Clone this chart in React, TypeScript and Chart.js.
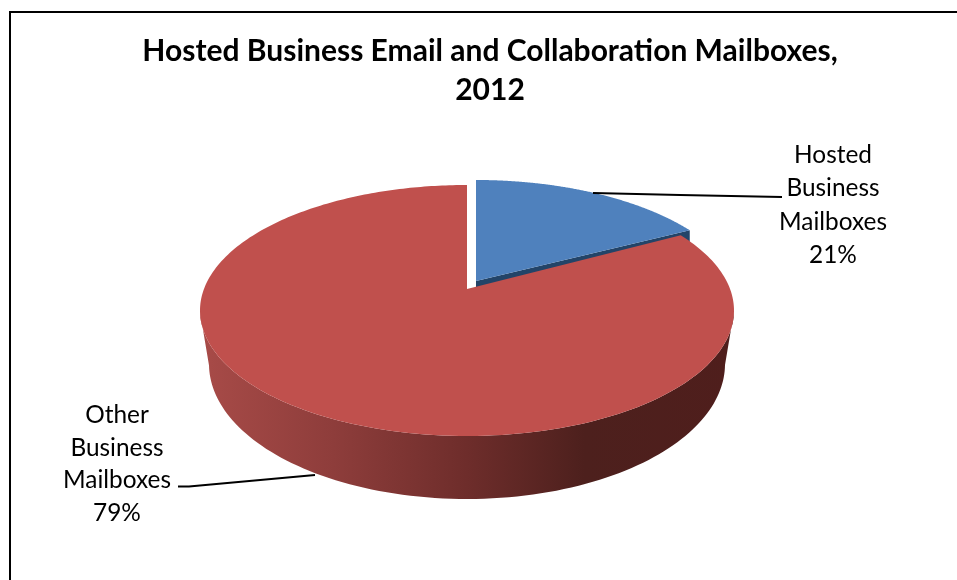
import React, { useEffect, useRef } from "react";
import { Chart, registerables, ArcElement, PieController } from "chart.js";

const categories = ["Hosted Business Mailboxes", "Other Business Mailboxes"];
const shares = [21, 79];
const sliceColors = ["#4f81bd", "#c0504d"];
const titleLines = ["Hosted Business Email and Collaboration Mailboxes,", "2012"];

const FONT = "Lato, 'Open Sans', sans-serif";
const RX = 267;
const RY = 125.5;
const APEX_DY = -21.5;
const FORESHORTEN = -0.412;
const BOTTOM = { rx: 258, ry: 135, dy: 53.5, depth: 63 };
const SLICE_STYLE: Record<string, { dx: number; dy: number; apex: number; wall: string | null }> = {
  "#4f81bd": { dx: 9, dy: -5, apex: -3, wall: "#234468" },
  "#c0504d": { dx: 0, dy: 0, apex: 0, wall: null },
};

function rim(theta: number) {
  const X = Math.sin(theta);
  const Y = -Math.cos(theta);
  const d = 1 + FORESHORTEN * Y;
  return {
    u: (X * Math.sqrt(1 - FORESHORTEN * FORESHORTEN)) / d,
    v: (Y + FORESHORTEN) / d,
  };
}

class Pie3DArc extends ArcElement {
  static id = "pie3dArc";
  draw(ctx: CanvasRenderingContext2D) {
    const a: any = this;
    const color = a.options.backgroundColor as string;
    const style = SLICE_STYLE[color] || { dx: 0, dy: 0, apex: 0, wall: null };
    const cx = a.x + style.dx;
    const cy = a.y + style.dy;
    const apexY = cy + APEX_DY + style.apex;
    const t0 = a.startAngle + Math.PI / 2;
    const t1 = a.endAngle + Math.PI / 2;
    const N = 240;
    const pts: { u: number; v: number }[] = [];
    for (let i = 0; i <= N; i++) pts.push(rim(t0 + ((t1 - t0) * i) / N));
    const top = (p: { u: number; v: number }) => [cx + RX * p.u, cy + RY * p.v];
    const low = (p: { u: number; v: number }) => [
      cx + BOTTOM.rx * p.u,
      cy + BOTTOM.dy + BOTTOM.ry * p.v,
    ];

    ctx.save();
    if (style.wall) {
      const [tx, ty] = top(pts[N]);
      ctx.fillStyle = style.wall;
      ctx.beginPath();
      ctx.moveTo(cx, apexY);
      ctx.lineTo(tx, ty);
      ctx.lineTo(tx, ty + BOTTOM.depth);
      ctx.lineTo(cx, apexY + BOTTOM.depth);
      ctx.closePath();
      ctx.fill();
    } else {
      const front = pts.filter((p) => p.v >= 0);
      const g = ctx.createLinearGradient(cx - RX, 0, cx + RX, 0);
      g.addColorStop(0, "#a84b48");
      g.addColorStop(0.25, "#8e3d3b");
      g.addColorStop(0.5, "#6e2d2b");
      g.addColorStop(0.72, "#4d201d");
      g.addColorStop(1, "#4f1e1c");
      ctx.fillStyle = g;
      ctx.beginPath();
      front.forEach((p, i) => {
        const [x, y] = top(p);
        if (i === 0) ctx.moveTo(x, y);
        else ctx.lineTo(x, y);
      });
      for (let i = front.length - 1; i >= 0; i--) {
        const [x, y] = low(front[i]);
        ctx.lineTo(x, y);
      }
      ctx.closePath();
      ctx.fill();
    }
    ctx.fillStyle = color;
    ctx.beginPath();
    ctx.moveTo(cx, apexY);
    pts.forEach((p) => {
      const [x, y] = top(p);
      ctx.lineTo(x, y);
    });
    ctx.closePath();
    ctx.fill();
    ctx.restore();
  }
}

class Pie3DController extends PieController {
  static id = "pie3d";
  static defaults = { dataElementType: "pie3dArc" };
}

Chart.register(...registerables, Pie3DArc as any, Pie3DController as any);

const framePlugin = {
  id: "frame",
  beforeDraw(chart: any) {
    const { ctx, width, height } = chart;
    ctx.save();
    ctx.fillStyle = "#ffffff";
    ctx.fillRect(0, 0, width, height);
    ctx.strokeStyle = "#000000";
    ctx.lineWidth = 2;
    ctx.beginPath();
    ctx.moveTo(10, height);
    ctx.lineTo(10, 12);
    ctx.lineTo(width, 12);
    ctx.stroke();
    ctx.restore();
  },
  afterLayout(chart: any) {
    chart.titleBlock.left = 23;
    chart.titleBlock.right = 957;
  },
};

const labelPlugin = {
  id: "pieLabels",
  afterDraw(chart: any) {
    const { ctx } = chart;
    const anchors = [
      { x: 833, y: 163, step: 33.3, leader: [[593, 193], [680, 195], [782, 197]] },
      { x: 117, y: 423, step: 32.7, leader: [[178, 486.5], [189, 486.5], [315, 475]] },
    ];
    const total = shares.reduce((s, v) => s + v, 0);
    ctx.save();
    ctx.fillStyle = "#000000";
    ctx.font = `24.4px ${FONT}`;
    ctx.textAlign = "center";
    ctx.textBaseline = "alphabetic";
    categories.forEach((name, i) => {
      const a = anchors[i];
      const lines = [...name.split(" "), `${Math.round((shares[i] / total) * 100)}%`];
      lines.forEach((line, j) => ctx.fillText(line, a.x, a.y + j * a.step));
      ctx.strokeStyle = "#000000";
      ctx.lineWidth = 1.8;
      ctx.beginPath();
      a.leader.forEach(([x, y], k) => (k === 0 ? ctx.moveTo(x, y) : ctx.lineTo(x, y)));
      ctx.stroke();
    });
    ctx.restore();
  },
};

export default function App() {
  const ref = useRef<HTMLCanvasElement>(null);
  useEffect(() => {
    document.body.style.margin = "0";
    const chart = new Chart(ref.current!, {
      type: "pie3d" as any,
      data: {
        labels: categories,
        datasets: [{ data: shares, backgroundColor: sliceColors, borderWidth: 0 }],
      },
      options: {
        responsive: false,
        animation: false,
        devicePixelRatio: 1,
        layout: { padding: { left: 100, right: 123, top: 0, bottom: 69.4 } },
        plugins: {
          legend: { display: false },
          tooltip: { enabled: false },
          title: {
            display: true,
            text: titleLines,
            color: "#000000",
            font: { family: FONT, size: 30, weight: "bold", lineHeight: 1.323 },
            padding: { top: 31, bottom: 0 },
          },
        },
      } as any,
      plugins: [framePlugin, labelPlugin],
    });
    return () => chart.destroy();
  }, []);
  return (
    <canvas
      ref={ref}
      width={957}
      height={580}
      style={{ display: "block", width: 957, height: 580 }}
    />
  );
}
